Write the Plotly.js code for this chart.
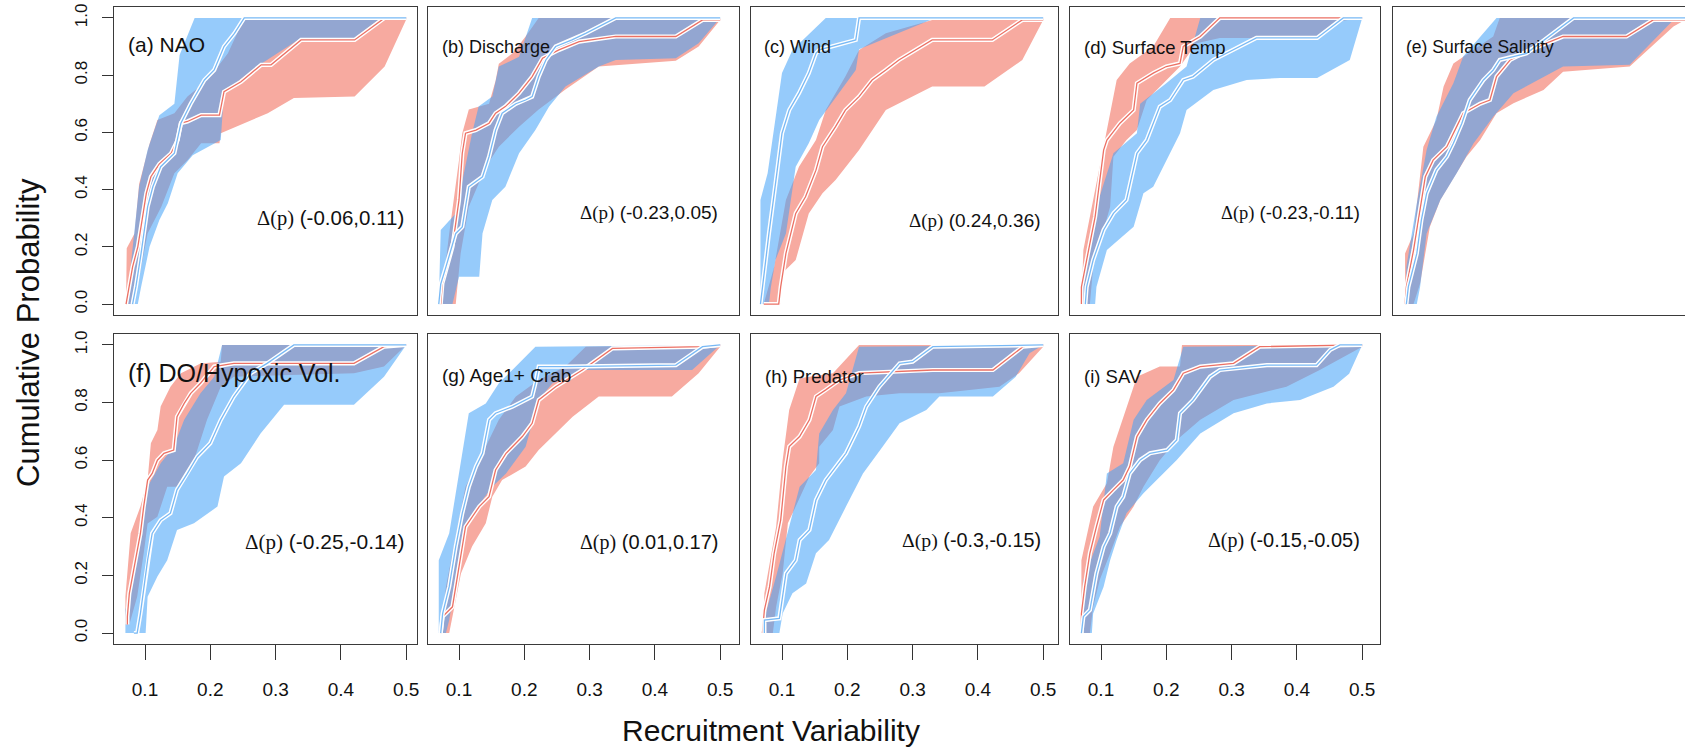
<!DOCTYPE html>
<html><head><meta charset="utf-8">
<script src="https://cdn.plot.ly/plotly-3.0.1.min.js"></script>
<style>html,body{margin:0;padding:0;background:#fff}#chart{width:1685px;height:747px}</style>
</head><body><div id="chart"></div>
<script>
// ---------------- DATA (x = recruitment variability, y = cumulative probability) ----------------
// (a) NAO
const A_RED_MID=[[0.071,0],[0.076,0.06],[0.081,0.13],[0.089,0.20],[0.096,0.305],[0.102,0.387],[0.109,0.445],[0.122,0.49],[0.140,0.527],[0.150,0.573],[0.155,0.632],[0.165,0.638],[0.186,0.66],[0.214,0.66],[0.221,0.742],[0.247,0.777],[0.278,0.836],[0.293,0.836],[0.339,0.923],[0.421,0.923],[0.467,1.0],[0.5,1.0]];
const A_RED_HI=[[0.071,0],[0.072,0.195],[0.084,0.247],[0.091,0.42],[0.107,0.56],[0.119,0.643],[0.145,0.667],[0.165,0.725],[0.196,0.783],[0.227,0.876],[0.252,1.0],[0.5,1.0]];
const A_RED_LO=[[0.084,0],[0.089,0.07],[0.104,0.247],[0.125,0.34],[0.145,0.457],[0.165,0.503],[0.186,0.562],[0.214,0.562],[0.216,0.597],[0.247,0.626],[0.288,0.667],[0.328,0.72],[0.421,0.725],[0.467,0.83],[0.5,0.994]];
const A_BLUE_MID=[[0.081,0],[0.086,0.06],[0.094,0.177],[0.104,0.34],[0.112,0.41],[0.124,0.48],[0.145,0.527],[0.155,0.632],[0.170,0.70],[0.191,0.783],[0.206,0.818],[0.221,0.9],[0.237,0.946],[0.252,1.0],[0.5,1.0]];
const A_BLUE_HI=[[0.072,0],[0.076,0.084],[0.091,0.41],[0.104,0.538],[0.122,0.66],[0.145,0.70],[0.153,0.87],[0.176,1.0],[0.5,1.0]];
const A_BLUE_LO=[[0.089,0],[0.094,0.06],[0.107,0.20],[0.122,0.294],[0.135,0.352],[0.150,0.457],[0.173,0.52],[0.216,0.573],[0.221,0.742],[0.278,0.84],[0.339,0.93],[0.421,0.93],[0.461,1.0],[0.5,1.0]];
// (b) Discharge
const B_RED_MID=[[0.072,0],[0.0745,0.072],[0.090,0.20],[0.1,0.364],[0.105,0.527],[0.110,0.597],[0.126,0.608],[0.146,0.632],[0.156,0.667],[0.171,0.69],[0.192,0.737],[0.212,0.795],[0.228,0.859],[0.253,0.888],[0.284,0.917],[0.340,0.935],[0.432,0.935],[0.473,0.993],[0.5,0.993]];
const B_RED_HI=[[0.072,0],[0.085,0.247],[0.1,0.503],[0.105,0.597],[0.115,0.68],[0.146,0.70],[0.156,0.78],[0.161,0.84],[0.182,0.876],[0.202,0.935],[0.222,1.0],[0.5,1.0]];
const B_RED_LO=[[0.095,0],[0.1025,0.177],[0.115,0.34],[0.141,0.48],[0.161,0.55],[0.192,0.62],[0.222,0.68],[0.263,0.75],[0.314,0.83],[0.432,0.85],[0.467,0.90],[0.5,0.993]];
const B_BLUE_MID=[[0.069,0],[0.072,0.07],[0.08,0.13],[0.095,0.247],[0.105,0.27],[0.115,0.41],[0.136,0.445],[0.146,0.515],[0.156,0.608],[0.166,0.667],[0.187,0.70],[0.202,0.713],[0.212,0.725],[0.222,0.795],[0.233,0.853],[0.248,0.9],[0.273,0.923],[0.294,0.946],[0.340,1.0],[0.5,1.0]];
const B_BLUE_HI=[[0.069,0],[0.072,0.259],[0.095,0.317],[0.105,0.434],[0.12,0.597],[0.13,0.69],[0.151,0.725],[0.161,0.83],[0.192,0.864],[0.212,1.0],[0.5,1.0]];
const B_BLUE_LO=[[0.09,0],[0.1,0.096],[0.131,0.096],[0.136,0.247],[0.151,0.364],[0.171,0.41],[0.192,0.527],[0.217,0.608],[0.238,0.69],[0.263,0.76],[0.314,0.83],[0.340,0.853],[0.432,0.859],[0.467,0.911],[0.5,1.0]];
// (c) Wind
const C_RED_MID=[[0.072,0],[0.095,0],[0.098,0.06],[0.106,0.177],[0.121,0.317],[0.136,0.375],[0.152,0.468],[0.162,0.55],[0.182,0.62],[0.197,0.678],[0.218,0.725],[0.238,0.783],[0.259,0.818],[0.279,0.853],[0.33,0.923],[0.422,0.923],[0.468,0.993],[0.5,0.993]];
const C_RED_HI=[[0.072,0],[0.088,0.13],[0.106,0.364],[0.126,0.48],[0.152,0.573],[0.167,0.678],[0.197,0.795],[0.218,0.888],[0.259,0.946],[0.33,0.993],[0.5,1.0]];
const C_RED_LO=[[0.098,0],[0.1,0.107],[0.121,0.154],[0.141,0.317],[0.162,0.387],[0.182,0.434],[0.218,0.538],[0.259,0.678],[0.33,0.76],[0.41,0.76],[0.468,0.853],[0.5,0.993]];
const C_BLUE_MID=[[0.067,0],[0.07,0.06],[0.08,0.247],[0.09,0.42],[0.1,0.597],[0.111,0.678],[0.126,0.737],[0.141,0.807],[0.152,0.876],[0.157,0.888],[0.213,0.923],[0.218,1.0],[0.5,1.0]];
const C_BLUE_HI=[[0.067,0],[0.067,0.364],[0.078,0.457],[0.1,0.807],[0.116,0.888],[0.167,1.0],[0.5,1.0]];
const C_BLUE_LO=[[0.08,0],[0.083,0.06],[0.09,0.154],[0.106,0.247],[0.121,0.48],[0.141,0.562],[0.157,0.643],[0.187,0.737],[0.213,0.818],[0.218,0.89],[0.33,0.995],[0.5,1.0]];
// (d) Surface Temp
const D_RED_MID=[[0.07,0],[0.07,0.06],[0.078,0.154],[0.091,0.305],[0.104,0.538],[0.109,0.573],[0.129,0.632],[0.15,0.678],[0.155,0.772],[0.18,0.807],[0.2,0.83],[0.221,0.841],[0.226,0.9],[0.252,0.935],[0.282,1.0],[0.5,1.0]];
const D_RED_HI=[[0.07,0],[0.073,0.189],[0.088,0.364],[0.106,0.573],[0.124,0.783],[0.144,0.841],[0.18,0.9],[0.206,1.0],[0.5,1.0]];
const D_RED_LO=[[0.083,0],[0.088,0.13],[0.114,0.34],[0.119,0.515],[0.139,0.573],[0.155,0.608],[0.17,0.713],[0.19,0.76],[0.221,0.83],[0.246,0.911],[0.282,0.93],[0.43,0.93],[0.47,0.99],[0.5,1.0]];
const D_BLUE_MID=[[0.076,0],[0.078,0.06],[0.088,0.154],[0.104,0.259],[0.119,0.317],[0.139,0.364],[0.155,0.527],[0.17,0.573],[0.19,0.69],[0.206,0.713],[0.226,0.783],[0.241,0.795],[0.272,0.853],[0.313,0.9],[0.338,0.93],[0.431,0.93],[0.471,1.0],[0.5,1.0]];
const D_BLUE_HI=[[0.07,0],[0.073,0.13],[0.093,0.34],[0.119,0.527],[0.155,0.597],[0.16,0.70],[0.2,0.772],[0.231,0.83],[0.252,1.0],[0.5,1.0]];
const D_BLUE_LO=[[0.091,0],[0.093,0.06],[0.109,0.189],[0.15,0.27],[0.165,0.387],[0.18,0.41],[0.221,0.597],[0.231,0.678],[0.272,0.748],[0.323,0.783],[0.374,0.79],[0.431,0.79],[0.481,0.853],[0.5,1.0]];
// (e) Surface Salinity
const E_RED_MID=[[0.071,0],[0.073,0.06],[0.084,0.189],[0.094,0.34],[0.102,0.445],[0.114,0.503],[0.135,0.55],[0.15,0.62],[0.16,0.667],[0.186,0.70],[0.201,0.713],[0.211,0.795],[0.232,0.853],[0.262,0.888],[0.313,0.935],[0.41,0.935],[0.451,0.993],[0.5,0.993]];
const E_RED_HI=[[0.071,0],[0.071,0.177],[0.084,0.247],[0.099,0.55],[0.119,0.643],[0.13,0.76],[0.145,0.841],[0.176,0.888],[0.206,0.935],[0.216,1.0],[0.5,1.0]];
const E_RED_LO=[[0.084,0],[0.094,0.072],[0.109,0.27],[0.125,0.364],[0.15,0.457],[0.165,0.515],[0.186,0.573],[0.211,0.667],[0.237,0.702],[0.283,0.748],[0.313,0.812],[0.415,0.83],[0.482,0.97],[0.5,0.993]];
const E_BLUE_MID=[[0.073,0],[0.076,0.06],[0.089,0.177],[0.096,0.294],[0.104,0.387],[0.119,0.469],[0.135,0.515],[0.145,0.562],[0.158,0.632],[0.17,0.713],[0.191,0.783],[0.206,0.818],[0.216,0.853],[0.237,0.865],[0.257,0.876],[0.329,1.0],[0.5,1.0]];
const E_BLUE_HI=[[0.071,0],[0.073,0.13],[0.089,0.352],[0.104,0.538],[0.119,0.655],[0.145,0.772],[0.16,0.865],[0.211,1.0],[0.5,1.0]];
const E_BLUE_LO=[[0.089,0],[0.094,0.06],[0.104,0.247],[0.125,0.364],[0.15,0.457],[0.176,0.562],[0.206,0.655],[0.237,0.737],[0.313,0.83],[0.415,0.836],[0.482,0.993],[0.5,1.0]];
// (f) DO/Hypoxic Vol.
const F_RED_MID=[[0.073,0.03],[0.073,0.057],[0.076,0.138],[0.081,0.196],[0.088,0.277],[0.093,0.346],[0.098,0.439],[0.104,0.531],[0.111,0.554],[0.119,0.60],[0.129,0.624],[0.144,0.635],[0.149,0.751],[0.16,0.797],[0.17,0.832],[0.185,0.867],[0.206,0.925],[0.236,0.936],[0.42,0.936],[0.466,0.994],[0.5,1.0]];
const F_RED_HI=[[0.07,0.03],[0.07,0.126],[0.078,0.346],[0.093,0.439],[0.104,0.531],[0.109,0.659],[0.119,0.705],[0.124,0.786],[0.139,0.855],[0.155,0.902],[0.185,0.936],[0.216,0.942],[0.218,1.0],[0.5,1.0]];
const F_RED_LO=[[0.076,0.03],[0.088,0.126],[0.098,0.277],[0.104,0.38],[0.119,0.404],[0.134,0.508],[0.155,0.508],[0.175,0.6],[0.195,0.74],[0.216,0.855],[0.236,0.89],[0.42,0.902],[0.466,0.925],[0.5,1.0]];
const F_BLUE_MID=[[0.083,0],[0.088,0],[0.093,0.068],[0.104,0.253],[0.111,0.346],[0.124,0.392],[0.139,0.416],[0.149,0.497],[0.165,0.554],[0.18,0.612],[0.2,0.659],[0.216,0.74],[0.236,0.821],[0.262,0.902],[0.287,0.936],[0.328,1.0],[0.5,1.0]];
const F_BLUE_HI=[[0.07,0],[0.07,0.08],[0.083,0.196],[0.104,0.508],[0.124,0.589],[0.144,0.647],[0.16,0.74],[0.185,0.832],[0.206,0.89],[0.218,1.0],[0.5,1.0]];
const F_BLUE_LO=[[0.101,0],[0.104,0.126],[0.119,0.196],[0.134,0.253],[0.149,0.358],[0.175,0.381],[0.211,0.439],[0.221,0.543],[0.247,0.589],[0.277,0.693],[0.313,0.792],[0.42,0.792],[0.466,0.89],[0.5,1.0]];
// (g) Age1+ Crab
const G_RED_MID=[[0.072,0],[0.075,0.057],[0.09,0.091],[0.1,0.23],[0.11,0.369],[0.131,0.439],[0.146,0.473],[0.156,0.566],[0.172,0.624],[0.197,0.682],[0.212,0.728],[0.222,0.809],[0.248,0.855],[0.289,0.913],[0.335,0.988],[0.473,0.994],[0.5,1.0]];
const G_RED_HI=[[0.072,0],[0.08,0.161],[0.095,0.335],[0.11,0.508],[0.136,0.624],[0.161,0.74],[0.187,0.821],[0.222,0.878],[0.263,0.925],[0.294,0.994],[0.5,1.0]];
const G_RED_LO=[[0.085,0],[0.092,0.08],[0.103,0.207],[0.12,0.3],[0.141,0.381],[0.151,0.473],[0.166,0.531],[0.202,0.578],[0.222,0.635],[0.274,0.751],[0.314,0.821],[0.426,0.821],[0.467,0.902],[0.5,0.994]];
const G_BLUE_MID=[[0.072,0],[0.075,0.068],[0.085,0.161],[0.095,0.3],[0.105,0.416],[0.115,0.508],[0.126,0.578],[0.136,0.624],[0.146,0.74],[0.156,0.763],[0.182,0.786],[0.212,0.821],[0.217,0.867],[0.222,0.925],[0.263,0.925],[0.432,0.93],[0.473,0.994],[0.5,1.0]];
const G_BLUE_HI=[[0.069,0],[0.069,0.253],[0.085,0.346],[0.105,0.624],[0.115,0.763],[0.141,0.797],[0.161,0.867],[0.187,0.925],[0.217,0.994],[0.5,1.0]];
const G_BLUE_LO=[[0.08,0],[0.085,0.045],[0.095,0.184],[0.105,0.323],[0.115,0.392],[0.136,0.462],[0.151,0.508],[0.172,0.554],[0.202,0.647],[0.222,0.809],[0.243,0.867],[0.294,0.913],[0.457,0.913],[0.5,1.0]];
// (h) Predator
const H_RED_MID=[[0.07,0],[0.073,0.08],[0.081,0.161],[0.088,0.277],[0.098,0.392],[0.106,0.578],[0.111,0.647],[0.127,0.682],[0.142,0.74],[0.152,0.821],[0.167,0.844],[0.188,0.878],[0.218,0.902],[0.331,0.913],[0.423,0.913],[0.469,0.994],[0.5,1.0]];
const H_RED_HI=[[0.07,0],[0.073,0.138],[0.091,0.369],[0.101,0.601],[0.111,0.774],[0.127,0.884],[0.178,0.902],[0.218,1.0],[0.5,1.0]];
const H_RED_LO=[[0.086,0],[0.091,0.091],[0.101,0.207],[0.109,0.381],[0.121,0.439],[0.142,0.543],[0.157,0.589],[0.157,0.647],[0.178,0.705],[0.188,0.786],[0.229,0.821],[0.28,0.832],[0.341,0.832],[0.433,0.855],[0.463,0.902],[0.5,0.994]];
const H_BLUE_MID=[[0.073,0],[0.073,0.045],[0.096,0.051],[0.101,0.138],[0.106,0.207],[0.121,0.253],[0.127,0.323],[0.142,0.358],[0.152,0.462],[0.167,0.531],[0.183,0.578],[0.198,0.624],[0.218,0.717],[0.229,0.786],[0.249,0.855],[0.28,0.936],[0.3,0.942],[0.331,0.994],[0.5,1.0]];
const H_BLUE_HI=[[0.073,0],[0.075,0.068],[0.091,0.196],[0.111,0.369],[0.127,0.508],[0.152,0.566],[0.157,0.693],[0.178,0.774],[0.198,0.832],[0.218,0.994],[0.5,1.0]];
const H_BLUE_LO=[[0.096,0],[0.101,0.068],[0.116,0.138],[0.137,0.172],[0.152,0.277],[0.172,0.323],[0.198,0.439],[0.224,0.554],[0.254,0.647],[0.28,0.728],[0.321,0.774],[0.341,0.821],[0.423,0.821],[0.458,0.89],[0.479,0.971],[0.5,1.0]];
// (i) SAV
const I_RED_MID=[[0.07,0],[0.07,0.068],[0.075,0.161],[0.083,0.277],[0.093,0.369],[0.104,0.462],[0.119,0.497],[0.134,0.531],[0.144,0.578],[0.155,0.682],[0.17,0.74],[0.19,0.797],[0.211,0.844],[0.226,0.902],[0.252,0.925],[0.303,0.936],[0.343,0.994],[0.5,1.0]];
const I_RED_HI=[[0.07,0],[0.07,0.253],[0.088,0.439],[0.109,0.52],[0.119,0.647],[0.139,0.786],[0.155,0.89],[0.19,0.925],[0.221,0.925],[0.224,1.0],[0.5,1.0]];
const I_RED_LO=[[0.083,0],[0.088,0.091],[0.098,0.184],[0.114,0.277],[0.129,0.369],[0.15,0.439],[0.165,0.508],[0.19,0.6],[0.216,0.67],[0.252,0.74],[0.303,0.809],[0.384,0.855],[0.435,0.913],[0.5,0.994]];
const I_BLUE_MID=[[0.07,0],[0.073,0.057],[0.083,0.08],[0.093,0.207],[0.104,0.3],[0.114,0.346],[0.124,0.439],[0.134,0.473],[0.144,0.554],[0.16,0.601],[0.175,0.624],[0.201,0.635],[0.216,0.67],[0.221,0.763],[0.241,0.809],[0.267,0.89],[0.282,0.913],[0.354,0.93],[0.43,0.93],[0.451,0.983],[0.466,1.0],[0.5,1.0]];
const I_BLUE_HI=[[0.07,0],[0.073,0.184],[0.098,0.335],[0.109,0.554],[0.134,0.589],[0.15,0.74],[0.17,0.809],[0.211,0.878],[0.226,0.994],[0.5,1.0]];
const I_BLUE_LO=[[0.086,0],[0.088,0.068],[0.104,0.161],[0.114,0.253],[0.124,0.323],[0.139,0.416],[0.165,0.485],[0.19,0.543],[0.216,0.601],[0.252,0.693],[0.303,0.763],[0.354,0.797],[0.405,0.809],[0.456,0.855],[0.48,0.9],[0.5,1.0]];

const PANEL_LABELS=['(a) NAO','(b) Discharge','(c) Wind','(d) Surface Temp','(e) Surface Salinity','(f) DO/Hypoxic Vol.','(g) Age1+ Crab','(h) Predator','(i) SAV'];
const DELTA_INTERVALS=['(-0.06,0.11)','(-0.23,0.05)','(0.24,0.36)','(-0.23,-0.11)','(-0.07,0.03)','(-0.25,-0.14)','(0.01,0.17)','(-0.3,-0.15)','(-0.15,-0.05)'];
const X_TICKS=[0.1,0.2,0.3,0.4,0.5];
const X_TICK_TEXT=['0.1','0.2','0.3','0.4','0.5'];
const Y_TICKS=[0,0.2,0.4,0.6,0.8,1.0];
const Y_TICK_TEXT=['0.0','0.2','0.4','0.6','0.8','1.0'];
const X_TITLE='Recruitment Variability';
const Y_TITLE='Cumulative Probability';

const SERIES=[
 {red:[A_RED_MID,A_RED_HI,A_RED_LO],blue:[A_BLUE_MID,A_BLUE_HI,A_BLUE_LO]},
 {red:[B_RED_MID,B_RED_HI,B_RED_LO],blue:[B_BLUE_MID,B_BLUE_HI,B_BLUE_LO]},
 {red:[C_RED_MID,C_RED_HI,C_RED_LO],blue:[C_BLUE_MID,C_BLUE_HI,C_BLUE_LO]},
 {red:[D_RED_MID,D_RED_HI,D_RED_LO],blue:[D_BLUE_MID,D_BLUE_HI,D_BLUE_LO]},
 {red:[E_RED_MID,E_RED_HI,E_RED_LO],blue:[E_BLUE_MID,E_BLUE_HI,E_BLUE_LO]},
 {red:[F_RED_MID,F_RED_HI,F_RED_LO],blue:[F_BLUE_MID,F_BLUE_HI,F_BLUE_LO]},
 {red:[G_RED_MID,G_RED_HI,G_RED_LO],blue:[G_BLUE_MID,G_BLUE_HI,G_BLUE_LO]},
 {red:[H_RED_MID,H_RED_HI,H_RED_LO],blue:[H_BLUE_MID,H_BLUE_HI,H_BLUE_LO]},
 {red:[I_RED_MID,I_RED_HI,I_RED_LO],blue:[I_BLUE_MID,I_BLUE_HI,I_BLUE_LO]}
];

// ---------------- LAYOUT / STYLE ----------------
const W=1685,H=747;
const COL_L=[114,428,751,1070,1393], COL_R=[417,739,1058,1380,1685];
const ROW_T=[7,334], ROW_B=[315,644];
const PX_PER_UNIT=653, TICK01_OFFSET=31;
const YR=[-0.038,1.038];
const LABEL_POS=[[126,45],[440,47],[762,47],[1082,47],[1404,47],[126,373],[440,375],[763,376],[1082,376]];
const LABEL_SIZE=[21,18,18,18.5,17.5,25,19,18.5,18.5];
const DELTA_Y=[0.30,0.32,0.29,0.32,0.29,0.316,0.316,0.32,0.32];
const DELTA_SIZE=[20.5,19,19,18.5,18.4,21,20,19.8,20];
const FONT='Liberation Sans, Arial, sans-serif';
const RED_FILL='rgb(247,170,160)', BLUE_FILL='rgba(68,163,248,0.56)';
const RED_LINE='rgb(236,112,100)', BLUE_LINE='rgb(120,185,245)';

const xs=p=>p.map(d=>d[0]), ys=p=>p.map(d=>d[1]);
const traces=[], annotations=[];
const layout={width:W,height:H,margin:{l:0,r:0,t:0,b:0},paper_bgcolor:'#fff',plot_bgcolor:'#fff',showlegend:false,annotations:annotations};

SERIES.forEach((s,k)=>{
  const row=k<5?0:1, col=k<5?k:k-5;
  const sfx=k===0?'':String(k+1);
  const L=COL_L[col], R=COL_R[col];
  const x0=0.1-TICK01_OFFSET/PX_PER_UNIT, x1=0.1+(R-L-TICK01_OFFSET)/PX_PER_UNIT;
  const isBottom=row===1, isLeft=col===0, isLast=(k===4);
  layout['xaxis'+sfx]={domain:[L/W,R/W],range:[x0,x1],anchor:'y'+sfx,showgrid:false,zeroline:false,
    showline:true,mirror:true,linecolor:'#3a3a3a',linewidth:1.3,
    ticks:isBottom?'outside':'',ticklen:15,tickwidth:1,tickcolor:'#333',
    tickvals:X_TICKS,ticktext:X_TICK_TEXT,showticklabels:isBottom,ticklabelstandoff:13,
    tickfont:{family:FONT,size:19,color:'#111'},fixedrange:true};
  layout['yaxis'+sfx]={domain:[1-ROW_B[row]/H,1-ROW_T[row]/H],range:YR,anchor:'x'+sfx,showgrid:false,zeroline:false,
    showline:true,mirror:!isLast,linecolor:'#3a3a3a',linewidth:1.3,
    ticks:isLeft?'outside':'',ticklen:11,tickwidth:1,tickcolor:'#333',
    tickvals:Y_TICKS,ticktext:Y_TICK_TEXT,showticklabels:isLeft,tickangle:-90,ticklabelstandoff:8,
    tickfont:{family:FONT,size:17,color:'#111'},fixedrange:true};
  const xa='x'+sfx, ya='y'+sfx;
  const band=(sr,fill)=>{
    const hi=sr[1], lo=sr[2];
    traces.push({type:'scatter',mode:'lines',xaxis:xa,yaxis:ya,
      x:xs(hi).concat(xs(lo).reverse()),y:ys(hi).concat(ys(lo).reverse()),
      fill:'toself',fillcolor:fill,line:{width:0},hoverinfo:'skip'});
  };
  band(s.red,RED_FILL);
  band(s.blue,BLUE_FILL);
  const mid=(sr,col)=>{
    traces.push({type:'scatter',mode:'lines',xaxis:xa,yaxis:ya,x:xs(sr[0]),y:ys(sr[0]),line:{color:'#ffffff',width:4.2},hoverinfo:'skip'});
    traces.push({type:'scatter',mode:'lines',xaxis:xa,yaxis:ya,x:xs(sr[0]),y:ys(sr[0]),line:{color:col,width:1.3},hoverinfo:'skip'});
  };
  mid(s.red,RED_LINE);
  mid(s.blue,BLUE_LINE);
  annotations.push({xref:'paper',yref:'paper',x:LABEL_POS[k][0]/W,y:1-LABEL_POS[k][1]/H,xanchor:'left',yanchor:'middle',
    text:PANEL_LABELS[k],showarrow:false,font:{family:FONT,size:LABEL_SIZE[k],color:'#111'}});
  annotations.push({xref:xa,yref:ya,x:0.5,y:DELTA_Y[k],xanchor:'right',yanchor:'middle',
    text:'<span style="font-family:Liberation Serif">\u0394(p)</span> '+DELTA_INTERVALS[k],showarrow:false,
    font:{family:FONT,size:DELTA_SIZE[k],color:'#111'}});
});
annotations.push({xref:'paper',yref:'paper',x:28/W,y:1-333/H,xanchor:'center',yanchor:'middle',textangle:-90,
  text:Y_TITLE,showarrow:false,font:{family:FONT,size:31,color:'#111'}});
annotations.push({xref:'paper',yref:'paper',x:771/W,y:1-730/H,xanchor:'center',yanchor:'middle',
  text:X_TITLE,showarrow:false,font:{family:FONT,size:30,color:'#111'}});

Plotly.newPlot('chart',traces,layout,{displayModeBar:false,staticPlot:true});
</script></body></html>
